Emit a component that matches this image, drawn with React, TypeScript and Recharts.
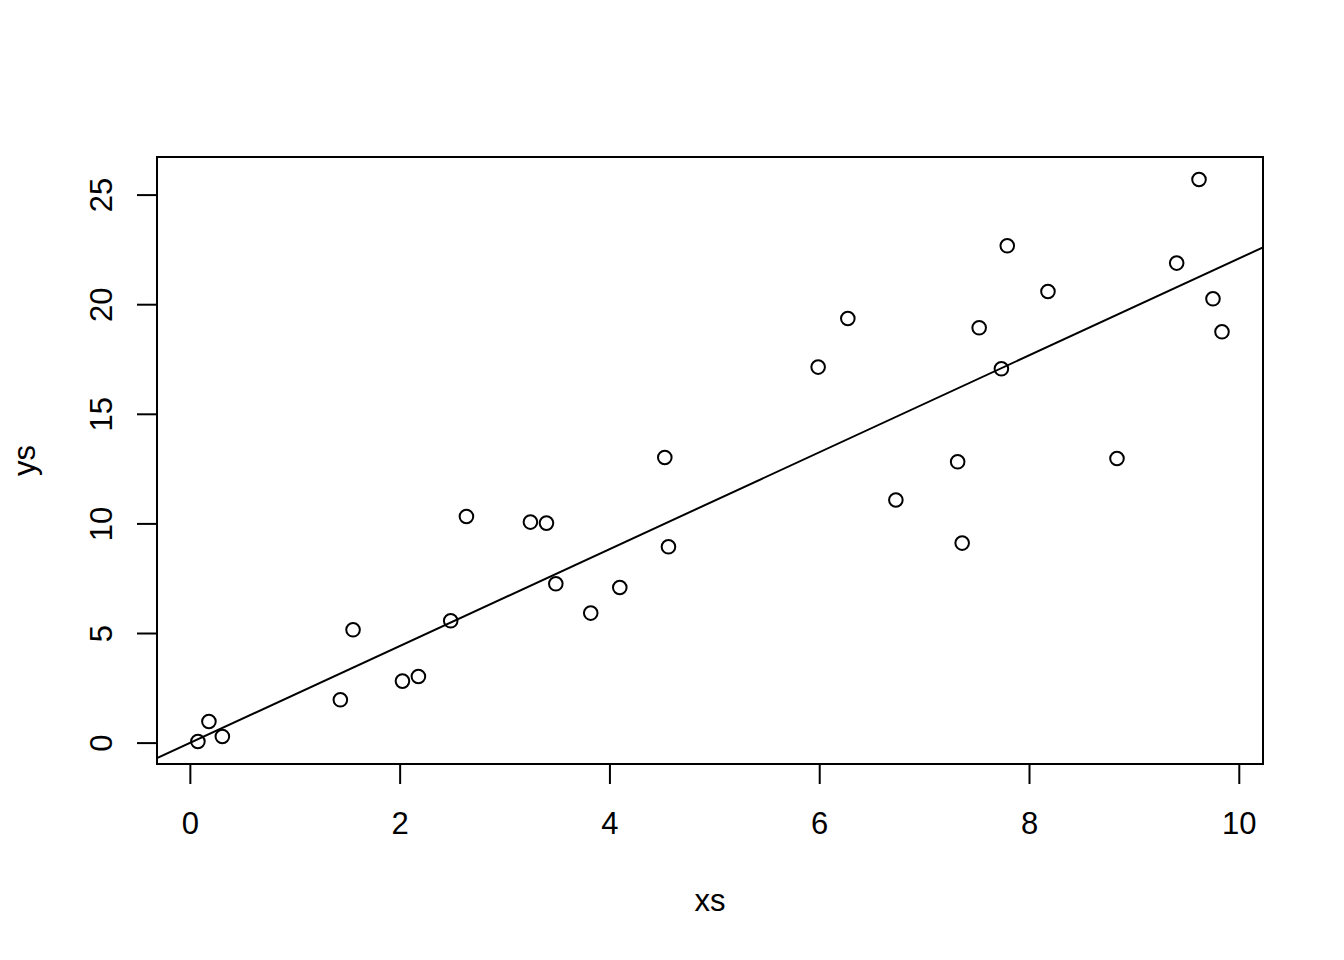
import React from 'react';
import { ComposedChart, Scatter, Line, XAxis, YAxis, ReferenceArea } from 'recharts';

const xs = [0.072, 0.177, 0.305, 1.430, 1.551, 2.022, 2.174, 2.482, 2.632, 3.242, 3.395, 3.484, 3.817, 4.094, 4.523, 4.558, 5.985, 6.268, 6.726, 7.315, 7.358, 7.520, 7.732, 7.788, 8.176, 8.834, 9.403, 9.616, 9.749, 9.835];
const ys = [0.073, 0.985, 0.301, 1.975, 5.169, 2.828, 3.038, 5.579, 10.338, 10.082, 10.036, 7.267, 5.931, 7.099, 13.029, 8.955, 17.153, 19.370, 11.090, 12.833, 9.124, 18.946, 17.076, 22.687, 20.602, 12.984, 21.898, 25.712, 20.269, 18.764];

// Fitted line
const fitIntercept = 0.016;
const fitSlope = 2.21;

// Axis ranges and ticks
const xDomain: [number, number] = [-0.318, 10.226];
const yDomain: [number, number] = [-0.953, 26.738];
const xTicks = [0, 2, 4, 6, 8, 10];
const yTicks = [0, 5, 10, 15, 20, 25];
const xLabel = 'xs';
const yLabel = 'ys';

const points = xs.map((x, i) => ({ x, y: ys[i] }));
const fitLine = xDomain.map((x) => ({ x, y: fitIntercept + fitSlope * x }));

const FONT = '"Liberation Sans", Arial, Helvetica, sans-serif';
const FS = 31;

const XTick = (props: any) => {
  const { x, y, payload } = props;
  return (
    <text x={x} y={y + 50} textAnchor="middle" fontFamily={FONT} fontSize={FS} fill="#000">
      {payload.value}
    </text>
  );
};

const YTick = (props: any) => {
  const { x, y, payload } = props;
  const bx = x - 25;
  return (
    <text x={bx} y={y} transform={`rotate(-90, ${bx}, ${y})`} textAnchor="middle" fontFamily={FONT} fontSize={FS} fill="#000">
      {payload.value}
    </text>
  );
};

const XTitle = (props: any) => {
  const vb = props.viewBox || {};
  const cx = vb.x + vb.width / 2;
  const by = vb.y + 147;
  return (
    <text x={cx} y={by} textAnchor="middle" fontFamily={FONT} fontSize={FS} fill="#000">
      {xLabel}
    </text>
  );
};

const YTitle = (props: any) => {
  const vb = props.viewBox || {};
  const bx = 34.5;
  const cy = vb.y + vb.height / 2;
  return (
    <text x={bx} y={cy} transform={`rotate(-90, ${bx}, ${cy})`} textAnchor="middle" fontFamily={FONT} fontSize={FS} fill="#000">
      {yLabel}
    </text>
  );
};

const OpenCircle = (props: any) => {
  const { cx, cy } = props;
  if (cx == null || cy == null) return <g />;
  return <circle cx={cx} cy={cy} r={6.8} fill="none" stroke="#000" strokeWidth={2} />;
};

export default function App() {
  return (
    <div style={{ position: 'absolute', left: 0, top: 0, width: 1344, height: 960, background: '#fff' }}>
      <ComposedChart width={1344} height={960} margin={{ top: 157, right: 81, bottom: 0, left: 0 }}>
        <XAxis
          type="number"
          dataKey="x"
          domain={xDomain}
          ticks={xTicks}
          allowDataOverflow
          axisLine={false}
          tickLine={{ stroke: '#000', strokeWidth: 2 }}
          tickSize={20}
          tickMargin={0}
          tick={<XTick />}
          height={196}
          interval={0}
          label={<XTitle />}
        />
        <YAxis
          type="number"
          dataKey="y"
          domain={yDomain}
          ticks={yTicks}
          allowDataOverflow
          axisLine={false}
          tickLine={{ stroke: '#000', strokeWidth: 2 }}
          tickSize={20}
          tickMargin={0}
          tick={<YTick />}
          width={157}
          interval={0}
          label={<YTitle />}
        />
        <Line
          data={fitLine}
          dataKey="y"
          type="linear"
          stroke="#000"
          strokeWidth={2}
          dot={false}
          activeDot={false}
          isAnimationActive={false}
        />
        <Scatter data={points} dataKey="y" shape={<OpenCircle />} isAnimationActive={false} />
        <ReferenceArea
          x1={xDomain[0]}
          x2={xDomain[1]}
          y1={yDomain[0]}
          y2={yDomain[1]}
          fill="none"
          fillOpacity={0}
          stroke="#000"
          strokeWidth={2}
          ifOverflow="visible"
        />
      </ComposedChart>
    </div>
  );
}
